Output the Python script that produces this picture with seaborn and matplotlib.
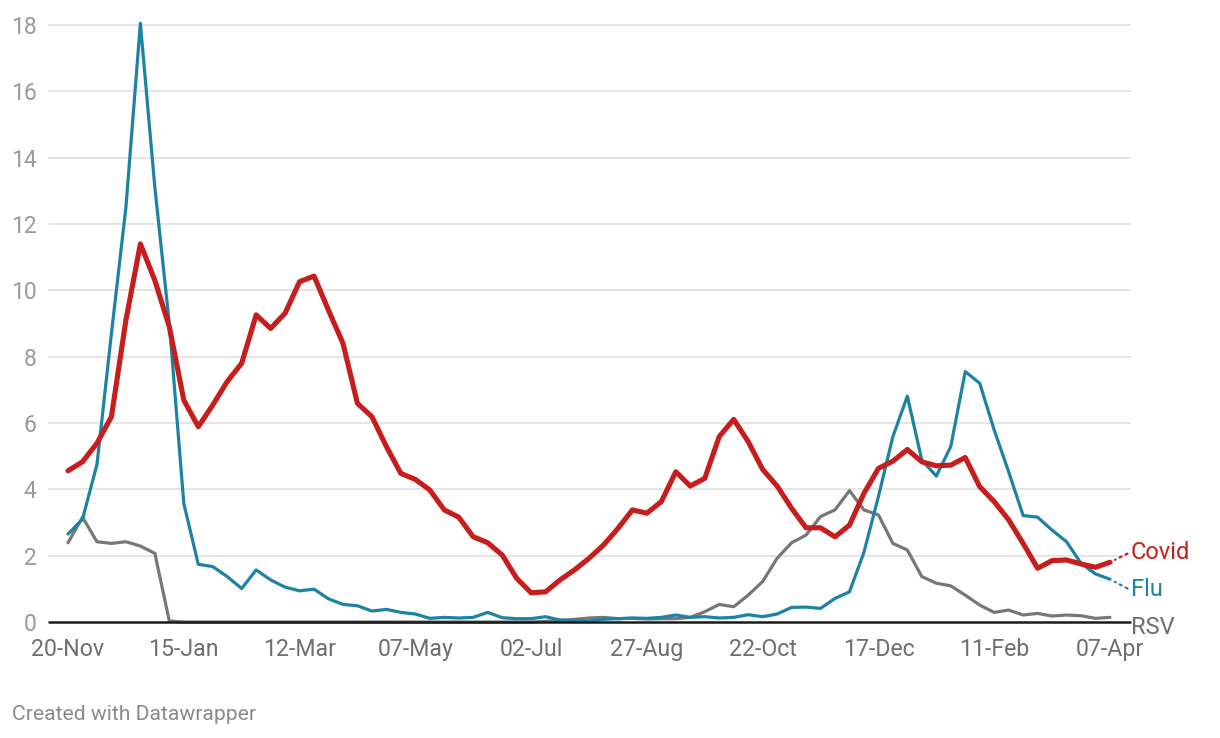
import numpy as np
import pandas as pd
import matplotlib
matplotlib.use("Agg")
import matplotlib.pyplot as plt
import matplotlib.transforms as mtransforms
import seaborn as sns

# ---- data (weekly, 20-Nov-2022 .. 07-Apr-2024) ----
start_date = "2022-11-20"
end_date = "2024-04-07"

covid = [4.56, 4.83, 5.39, 6.19, 9.1, 11.4, 10.3, 8.9, 6.69, 5.89,
         6.54, 7.25, 7.8, 9.26, 8.85, 9.31, 10.26, 10.43, 9.4, 8.4,
         6.59, 6.19, 5.29, 4.48, 4.3, 3.98, 3.38, 3.16, 2.57, 2.39,
         2.02, 1.32, 0.88, 0.91, 1.27, 1.57, 1.92, 2.32, 2.82, 3.38,
         3.28, 3.63, 4.53, 4.1, 4.33, 5.59, 6.11, 5.44, 4.6, 4.1,
         3.43, 2.84, 2.84, 2.57, 2.92, 3.88, 4.63, 4.85, 5.2, 4.83,
         4.71, 4.73, 4.96, 4.08, 3.63, 3.08, 2.37, 1.62, 1.85, 1.87,
         1.75, 1.65, 1.8]

flu = [2.65, 3.1, 4.75, 8.7, 12.5, 18.05, 13.1, 9.0, 3.58, 1.74,
       1.67, 1.37, 1.01, 1.57, 1.27, 1.05, 0.94, 0.99, 0.7, 0.53,
       0.49, 0.33, 0.38, 0.29, 0.24, 0.11, 0.14, 0.12, 0.14, 0.29,
       0.13, 0.1, 0.1, 0.16, 0.06, 0.04, 0.03, 0.08, 0.1, 0.12,
       0.11, 0.14, 0.21, 0.14, 0.16, 0.12, 0.14, 0.22, 0.16, 0.24,
       0.44, 0.45, 0.41, 0.71, 0.91, 2.1, 3.78, 5.59, 6.81, 4.88,
       4.4, 5.29, 7.55, 7.2, 5.79, 4.53, 3.21, 3.16, 2.77, 2.42,
       1.77, 1.45, 1.29]

rsv = [2.39, 3.16, 2.42, 2.37, 2.42, 2.29, 2.07, 0.03, 0.0, 0.0,
       0.0, 0.0, 0.0, 0.0, 0.0, 0.0, 0.0, 0.0, 0.0, 0.0,
       0.0, 0.0, 0.0, 0.0, 0.0, 0.0, 0.0, 0.0, 0.0, 0.0,
       0.0, 0.0, 0.0, 0.02, 0.05, 0.08, 0.12, 0.14, 0.1, 0.11,
       0.09, 0.1, 0.1, 0.14, 0.31, 0.53, 0.46, 0.81, 1.22, 1.92,
       2.39, 2.62, 3.18, 3.38, 3.96, 3.38, 3.23, 2.37, 2.17, 1.37,
       1.17, 1.09, 0.81, 0.51, 0.29, 0.36, 0.21, 0.26, 0.18, 0.21,
       0.19, 0.11, 0.14]

series_names = ["RSV", "Flu", "Covid"]
tick_labels = ["20-Nov", "15-Jan", "12-Mar", "07-May", "02-Jul",
               "27-Aug", "22-Oct", "17-Dec", "11-Feb", "07-Apr"]
y_ticks = [0, 2, 4, 6, 8, 10, 12, 14, 16, 18]

colors = {"Covid": "#c71e1d", "Flu": "#1d83a4", "RSV": "#777777"}
widths = {"Covid": 3.7, "Flu": 2.3, "RSV": 2.3}

dates = pd.date_range(start_date, end_date, freq="7D")
df = pd.concat([
    pd.DataFrame({"date": dates, "value": rsv, "series": "RSV"}),
    pd.DataFrame({"date": dates, "value": flu, "series": "Flu"}),
    pd.DataFrame({"date": dates, "value": covid, "series": "Covid"}),
], ignore_index=True)

# ---- figure ----
sns.set_theme(style="white")
plt.rcParams["font.family"] = ["Roboto", "DejaVu Sans"]

fig = plt.figure(figsize=(12.2, 7.38), dpi=100)
ax = fig.add_axes([49 / 1220, 116 / 738, 1081 / 1220, 597 / 738])

ax.set_ylim(0, 18)
ax.set_xlim(dates[0] - pd.Timedelta(days=9.2), dates[-1] + pd.Timedelta(days=9.7))

for y in y_ticks[1:]:
    ax.axhline(y, color="#e3e3e3", lw=1.3, zorder=0)

sns.lineplot(data=df, x="date", y="value", hue="series", size="series",
             hue_order=series_names, size_order=series_names,
             palette=colors, sizes=widths, legend=False, ax=ax,
             estimator=None, sort=False)
for ln in ax.get_lines():
    ln.set_clip_on(False)
    ln.set_solid_capstyle("round")
    ln.set_solid_joinstyle("round")

ax.axhline(0, color="#1a1a1a", lw=1.8, zorder=5, clip_on=False)

for s in ax.spines.values():
    s.set_visible(False)

ax.set_yticks(y_ticks)
ax.set_yticklabels([str(v) for v in y_ticks])
ax.set_xticks(dates[::8])
ax.set_xticklabels(tick_labels)
ax.tick_params(axis="y", length=0, pad=9, labelsize=16.5, labelcolor="#9a9a9a")
ax.tick_params(axis="x", length=0, pad=11.5, labelsize=16.7, labelcolor="#6e6e6e")
ax.set_xlabel("")
ax.set_ylabel("")

# end labels
trans = mtransforms.blended_transform_factory(ax.transAxes, ax.transData)
label_y = {"Covid": 2.1, "Flu": 0.97, "RSV": -0.17}
label_col = {"Covid": "#c71e1d", "Flu": "#1d83a4", "RSV": "#6e6e6e"}
last_vals = {"Covid": covid[-1], "Flu": flu[-1], "RSV": rsv[-1]}
for name in ["Covid", "Flu", "RSV"]:
    ax.text(1.001, label_y[name], name, transform=trans, ha="left", va="center",
            fontsize=17, color=label_col[name], clip_on=False)
    if name != "RSV":
        ax.annotate("", xy=(dates[-1], last_vals[name]),
                    xytext=(1.0, label_y[name]), textcoords=trans,
                    arrowprops=dict(arrowstyle="-", linestyle=(0, (1, 2)),
                                    color=label_col[name], lw=1.6,
                                    shrinkA=2, shrinkB=4),
                    annotation_clip=False)

fig.text(12 / 1220, 1 - 714 / 738, "Created with Datawrapper", ha="left", va="center",
         fontsize=15.2, color="#8a8a8a")

fig.savefig("out.png", dpi=100, facecolor="white")
